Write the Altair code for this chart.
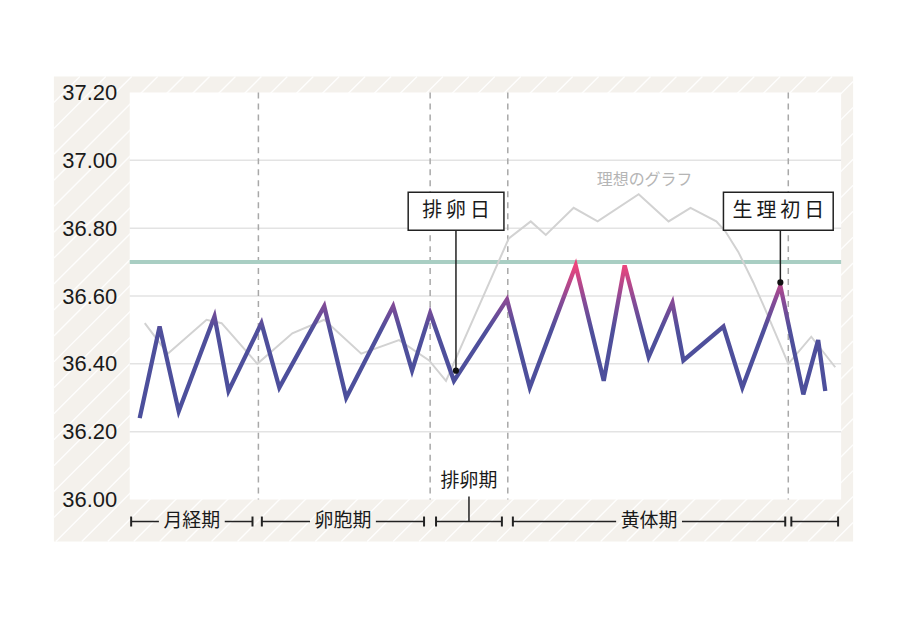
import altair as alt
import pandas as pd

# ---------------- data ----------------
# measured basal body temperature (day position, temperature)
bbt_day = [0.49, 1.47, 2.41, 4.17, 4.86, 6.48, 7.36, 9.57, 10.65, 12.96, 13.89,
           14.78, 15.95, 18.56, 19.68, 21.94, 23.32, 24.35, 25.53, 26.70, 27.24,
           29.21, 30.14, 32.01, 33.14, 33.87, 34.22]
bbt_temp = [36.24, 36.51, 36.26, 36.54, 36.32, 36.52, 36.33, 36.57, 36.30, 36.57, 36.38,
            36.55, 36.35, 36.59, 36.33, 36.69, 36.35, 36.69, 36.42, 36.58, 36.41,
            36.51, 36.33, 36.63, 36.31, 36.47, 36.32]

# ideal curve (理想のグラフ)
ideal_day = [0.74, 1.87, 3.78, 4.52, 6.28, 8.00, 9.57, 11.39, 13.25, 14.73, 15.56,
             18.65, 19.73, 20.47, 21.84, 23.02, 25.04, 26.51, 27.59, 28.86, 29.31,
             29.94, 30.68, 31.27, 31.91, 32.40, 33.53, 34.71]
ideal_temp = [36.52, 36.43, 36.53, 36.52, 36.40, 36.49, 36.53, 36.43, 36.47, 36.41, 36.35,
              36.77, 36.82, 36.78, 36.86, 36.82, 36.90, 36.82, 36.86, 36.82, 36.79,
              36.73, 36.64, 36.56, 36.47, 36.40, 36.48, 36.39]

y_ticks = [36.0, 36.2, 36.4, 36.6, 36.8, 37.0, 37.2]
grid_temps = [36.2, 36.4, 36.6, 36.8, 37.0]
threshold = [36.70]
phase_dividers = [6.33, 14.78, 18.60, 32.40]

phase_label = ["月経期", "卵胞期", "排卵期", "黄体期", ""]
phase_start = [0.07, 6.50, 15.07, 18.85, 32.55]
phase_end = [6.04, 14.48, 18.31, 32.25, 34.85]
phase_inline = [True, True, False, True, False]

ann_label = ["排\u2009卵\u2009日", "生\u2009理\u2009初\u2009日"]
ann_day = [16.05, 32.01]
ann_dot_temp = [36.38, 36.64]
ann_box_left = [13.70, 29.21]
ann_box_right = [18.41, 34.61]
ann_box_top = [36.906, 36.906]
ann_box_bottom = [36.794, 36.794]

ideal_label = ["理想のグラフ"]
ideal_label_day = [25.33]
ideal_label_temp = [36.941]

# ---------------- layout ----------------
W, H = 713, 408
XMAX = 35.0
YMIN, YMAX = 36.0, 37.2
px_day = W / XMAX
px_deg = H / (YMAX - YMIN)

xs = alt.Scale(domain=[0, XMAX], nice=False, zero=False)
ys = alt.Scale(domain=[YMIN, YMAX], nice=False, zero=False)
yaxis = alt.Axis(values=y_ticks, format=".2f", title=None, grid=False, domain=False,
                 ticks=False, tickSize=0, labelPadding=13, labelFontSize=22,
                 labelFont="Liberation Sans", labelColor="#1a1a1a", zindex=2)

CJK = "Noto Sans CJK JP"


def X(f):
    return alt.X(f, type="quantitative", scale=xs, axis=None)


def Y(f):
    return alt.Y(f, type="quantitative", scale=ys, axis=yaxis)


one = pd.DataFrame({"a": [0]})

# beige hatched background panel (pixel offsets relative to the plot)
bx0, bx1, by0, by1 = -76, 725, -16, 450
beige = alt.Chart(one).mark_rect(fill="#f4f1ec").encode(
    x=alt.value(bx0), x2=alt.value(bx1), y=alt.value(by0), y2=alt.value(by1))

hx1, hx2, hy1, hy2 = [], [], [], []
c = bx0 + by0
while c < bx1 + by1:
    xa = max(bx0, c - by1)
    xb = min(bx1, c - by0)
    if xa < xb:
        hx1.append(xa / px_day)
        hx2.append(xb / px_day)
        hy1.append(YMAX - (c - xa) / px_deg)
        hy2.append(YMAX - (c - xb) / px_deg)
    c += 26
hatch_df = pd.DataFrame({"x1": hx1, "x2": hx2, "y1": hy1, "y2": hy2})
hatch = alt.Chart(hatch_df).mark_rule(color="white", strokeWidth=1.4, opacity=0.9).encode(
    x=X("x1"), x2=alt.X2("x2"), y=Y("y1"), y2=alt.Y2("y2"))

plot_bg = alt.Chart(one).mark_rect(fill="white").encode(
    x=alt.value(0), x2=alt.value(W), y=alt.value(0), y2=alt.value(H))

grid = alt.Chart(pd.DataFrame({"t": grid_temps})).mark_rule(
    color="#e3e3e3", strokeWidth=1.5).encode(y=Y("t"))

dividers = alt.Chart(pd.DataFrame({"d": phase_dividers})).mark_rule(
    color="#a8a8a8", strokeWidth=1.5, strokeDash=[6, 5]).encode(x=X("d"))

thr = alt.Chart(pd.DataFrame({"t": threshold})).mark_rule(
    color="#a9cec3", strokeWidth=4).encode(y=Y("t"))

ideal = alt.Chart(pd.DataFrame({"day": ideal_day, "temp": ideal_temp})).mark_line(
    color="#d2d2d2", strokeWidth=2).encode(x=X("day"), y=Y("temp"))

grad = alt.Gradient(
    gradient="linear",
    stops=[alt.GradientStop(color="#4b4f9c", offset=0),
           alt.GradientStop(color="#4f4f9b", offset=0.58),
           alt.GradientStop(color="#8b4a96", offset=0.78),
           alt.GradientStop(color="#ec457c", offset=1)],
    x1=0, x2=0, y1=1, y2=0)
main = alt.Chart(pd.DataFrame({"day": bbt_day, "temp": bbt_temp})).mark_line(
    stroke=grad, strokeWidth=4.3).encode(x=X("day"), y=Y("temp"))

ann_df = pd.DataFrame({
    "label": ann_label, "day": ann_day, "dot": ann_dot_temp,
    "left": ann_box_left, "right": ann_box_right,
    "top": ann_box_top, "bottom": ann_box_bottom,
})
ann_df["mid"] = (ann_df["left"] + ann_df["right"]) / 2
ann_df["cy"] = (ann_df["top"] + ann_df["bottom"]) / 2

connectors = alt.Chart(ann_df).mark_rule(color="#222", strokeWidth=1.5).encode(
    x=X("day"), y=Y("bottom"), y2=alt.Y2("dot"))
dots = alt.Chart(ann_df).mark_circle(color="#111", size=38, opacity=1).encode(
    x=X("day"), y=Y("dot"))
boxes = alt.Chart(ann_df).mark_rect(fill="white", stroke="#222", strokeWidth=1.5).encode(
    x=X("left"), x2=alt.X2("right"), y=Y("top"), y2=alt.Y2("bottom"))
box_text = alt.Chart(ann_df).mark_text(font=CJK, fontSize=20, color="#1a1a1a",
                                       baseline="middle", align="center").encode(
    x=X("mid"), y=Y("cy"), text="label:N")

ideal_txt = alt.Chart(pd.DataFrame({"label": ideal_label, "day": ideal_label_day,
                                    "temp": ideal_label_temp})).mark_text(
    font=CJK, fontSize=16, color="#b5b5b5", baseline="middle", align="center").encode(
    x=X("day"), y=Y("temp"), text="label:N")

# phase brackets below the plot
gap = 33 / px_day
seg_s, seg_e, ticks, lab_x, lab_t, stub_x, above_x, above_t = [], [], [], [], [], [], [], []
for lab, s, e, inl in zip(phase_label, phase_start, phase_end, phase_inline):
    m = (s + e) / 2
    ticks += [s, e]
    if lab and inl:
        seg_s += [s, m + gap]
        seg_e += [m - gap, e]
        lab_x.append(m)
        lab_t.append(lab)
    else:
        seg_s.append(s)
        seg_e.append(e)
        if lab:
            stub_x.append(m)
            above_x.append(m)
            above_t.append(lab)

LY = H + 22
segs = alt.Chart(pd.DataFrame({"s": seg_s, "e": seg_e})).mark_rule(
    color="#222", strokeWidth=1.5).encode(x=X("s"), x2=alt.X2("e"), y=alt.value(LY))
tick_marks = alt.Chart(pd.DataFrame({"t": ticks})).mark_rule(
    color="#222", strokeWidth=2).encode(x=X("t"), y=alt.value(LY - 5), y2=alt.value(LY + 5))
stubs = alt.Chart(pd.DataFrame({"t": stub_x})).mark_rule(
    color="#222", strokeWidth=1.5).encode(x=X("t"), y=alt.value(LY - 25), y2=alt.value(LY))
labels_in = alt.Chart(pd.DataFrame({"x": lab_x, "t": lab_t})).mark_text(
    font=CJK, fontSize=19, color="#1a1a1a", baseline="middle", align="center").encode(
    x=X("x"), y=alt.value(LY), text="t:N")
labels_above = alt.Chart(pd.DataFrame({"x": above_x, "t": above_t})).mark_text(
    font=CJK, fontSize=19, color="#1a1a1a", baseline="middle", align="center").encode(
    x=X("x"), y=alt.value(LY - 41), text="t:N")

chart = alt.layer(
    beige, hatch, plot_bg, grid, dividers, thr, ideal, main,
    connectors, dots, boxes, box_text, ideal_txt,
    segs, tick_marks, stubs, labels_in, labels_above,
).properties(
    width=W, height=H,
    autosize=alt.AutoSizeParams(type="none"),
    padding={"left": 122, "top": 84, "right": 60, "bottom": 100},
    background="white",
).configure_view(stroke=None)

chart.save("out.html", embed_options={"renderer": "svg", "actions": False})
